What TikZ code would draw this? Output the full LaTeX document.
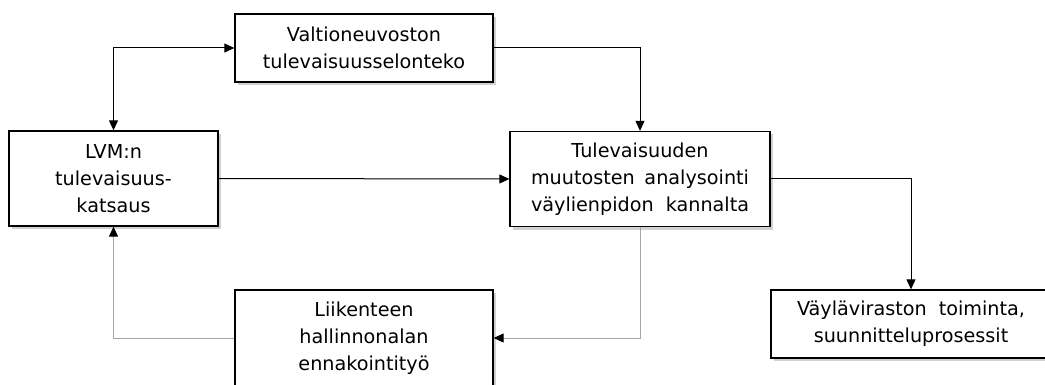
\documentclass[tikz,border=0pt]{standalone}
\usepackage{fontspec}
\setmainfont{DejaVu Sans}
\usetikzlibrary{arrows.meta}
\usetikzlibrary{shadows, math}

\tikzset{
laatikko/.style={draw=black, line width=1.3pt, fill=white, align=center, inner sep=0pt,
  drop shadow={shadow xshift=2.5pt, shadow yshift=-3pt, fill=black!30, opacity=0.6},
  font=\fontsize{19.2}{26.8}\selectfont},
kanta/.style={line width=1pt},
nuoli/.style={kanta, -{Triangle[length=10pt, width=9pt, black]}},
harmaa/.style={nuoli, draw=black!35},
}

\begin{document}
\begin{tikzpicture}[x=1pt, y=-1pt]
\tikzmath{
\W=258;
\Wt=260;
\H=68;
\Ht=95;
}
\useasboundingbox (0,0) rectangle (1045,385);

\node[laatikko, minimum width=\W, minimum height=\H] (valtio) at (364,48) {Valtioneuvoston\\tulevaisuusselonteko};
\node[laatikko, minimum width=209, minimum height=\Ht] (lvm) at (113.5,178.5) {LVM:n\\tulevaisuus-\\katsaus};
\node[laatikko, minimum width=\Wt, minimum height=\Ht] (tul) at (640,179) {Tulevaisuuden\\\makebox[218pt][s]{muutosten analysointi}\\\makebox[218pt][s]{väylienpidon kannalta}};
\node[laatikko, minimum width=\W, minimum height=96] (liik) at (364,338) {Liikenteen\\hallinnonalan\\ennakointityö};
\node[laatikko, minimum width=280, minimum height=\H] (vayla) at (911,324) {\makebox[228pt][s]{Väyläviraston toiminta,}\\suunnitteluprosessit};

\draw[kanta, {Triangle[length=10pt, width=9pt]}-{Triangle[length=10pt, width=9pt]}] (lvm.north) |- (valtio.west);
\draw[nuoli] (valtio.east) -| (tul.north);
\draw[nuoli] (lvm.east) -- (tul.west);
\draw[nuoli] (tul.east) -| (vayla.north);
\draw[harmaa] (tul.south) |- (liik.east);
\draw[harmaa] (liik.west) -| (lvm.south);

\end{tikzpicture}
\end{document}
